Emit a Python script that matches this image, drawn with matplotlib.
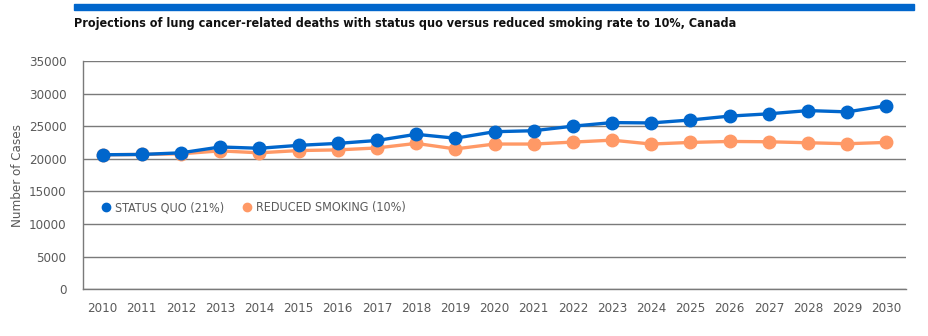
import matplotlib
matplotlib.use("Agg")
import matplotlib.pyplot as plt
from matplotlib.lines import Line2D

plt.rcParams['font.family'] = ['DejaVu Sans']
plt.rcParams['font.stretch'] = 'condensed'

years = [str(y) for y in range(2010, 2031)]
status_quo = [20650, 20700, 20950, 21850, 21650, 22100, 22400, 22850, 23800, 23200,
              24200, 24350, 25050, 25600, 25550, 26000, 26600, 26950, 27450, 27250, 28200]
reduced = [20650, 20700, 20800, 21250, 20950, 21300, 21400, 21700, 22400, 21550,
           22300, 22300, 22600, 22900, 22300, 22550, 22700, 22650, 22500, 22350, 22550]
yticks = list(range(0, 35001, 5000))
title = "Projections of lung cancer-related deaths with status quo versus reduced smoking rate to 10%, Canada"
ylabel = "Number of Cases"
labels = ["STATUS QUO (21%)", "REDUCED SMOKING (10%)"]

BLUE = '#0066CC'
ORANGE = '#FF9966'
GRID = '#7a7a7a'
TXT = '#5a5a5a'

fig = plt.figure(figsize=(9.29, 3.36), dpi=100)
fig.patches.append(plt.Rectangle((74/929, 1-10/336), (914-74)/929, 6/336,
                                 transform=fig.transFigure, color=BLUE, zorder=0))
ttl = fig.text(74/929, 1-23/336, title, fontsize=10.5, fontweight='bold', color='#111111',
               va='center', ha='left')
r = fig.canvas.get_renderer()
w = ttl.get_window_extent(renderer=r).width
target = 663
if w > target:
    ttl.set_fontsize(10.5 * target / w)

ax = fig.add_axes([83/929, 47/336, (906-83)/929, (289-61.5)/336])
x = list(range(len(years)))
ax.plot(x, reduced, color=ORANGE, lw=2.4, marker='o', ms=9, zorder=3, label=labels[1])
ax.plot(x, status_quo, color=BLUE, lw=2.4, marker='o', ms=9, zorder=4, label=labels[0])
ax.set_xlim(-0.5, len(years) - 0.5)
ax.set_ylim(0, 35000)
ax.set_yticks(yticks)
ax.set_yticklabels([str(v) for v in yticks])
ax.set_xticks(x)
ax.set_xticklabels(years)
ax.yaxis.grid(True, color=GRID, lw=1.0)
ax.set_axisbelow(True)
for s in ['top', 'right']:
    ax.spines[s].set_visible(False)
for s in ['left', 'bottom']:
    ax.spines[s].set_color(GRID)
    ax.spines[s].set_linewidth(1.0)
ax.tick_params(axis='both', length=0, labelsize=9.5, colors=TXT)
ax.tick_params(axis='y', pad=12)
ax.tick_params(axis='x', pad=9)
ax.set_ylabel(ylabel, fontsize=9.5, color=TXT)
ax.yaxis.set_label_coords(-0.072, 0.5)

handles = [Line2D([], [], color=BLUE, marker='o', ls='none', ms=6),
           Line2D([], [], color=ORANGE, marker='o', ls='none', ms=6)]
leg = ax.legend(handles, labels, loc='upper left', bbox_to_anchor=(0.005, 0.435),
                ncol=2, frameon=False, fontsize=9, handletextpad=0.1,
                columnspacing=1.3, handlelength=1.2)
for t in leg.get_texts():
    t.set_color(TXT)

fig.savefig('out.png', dpi=100)
